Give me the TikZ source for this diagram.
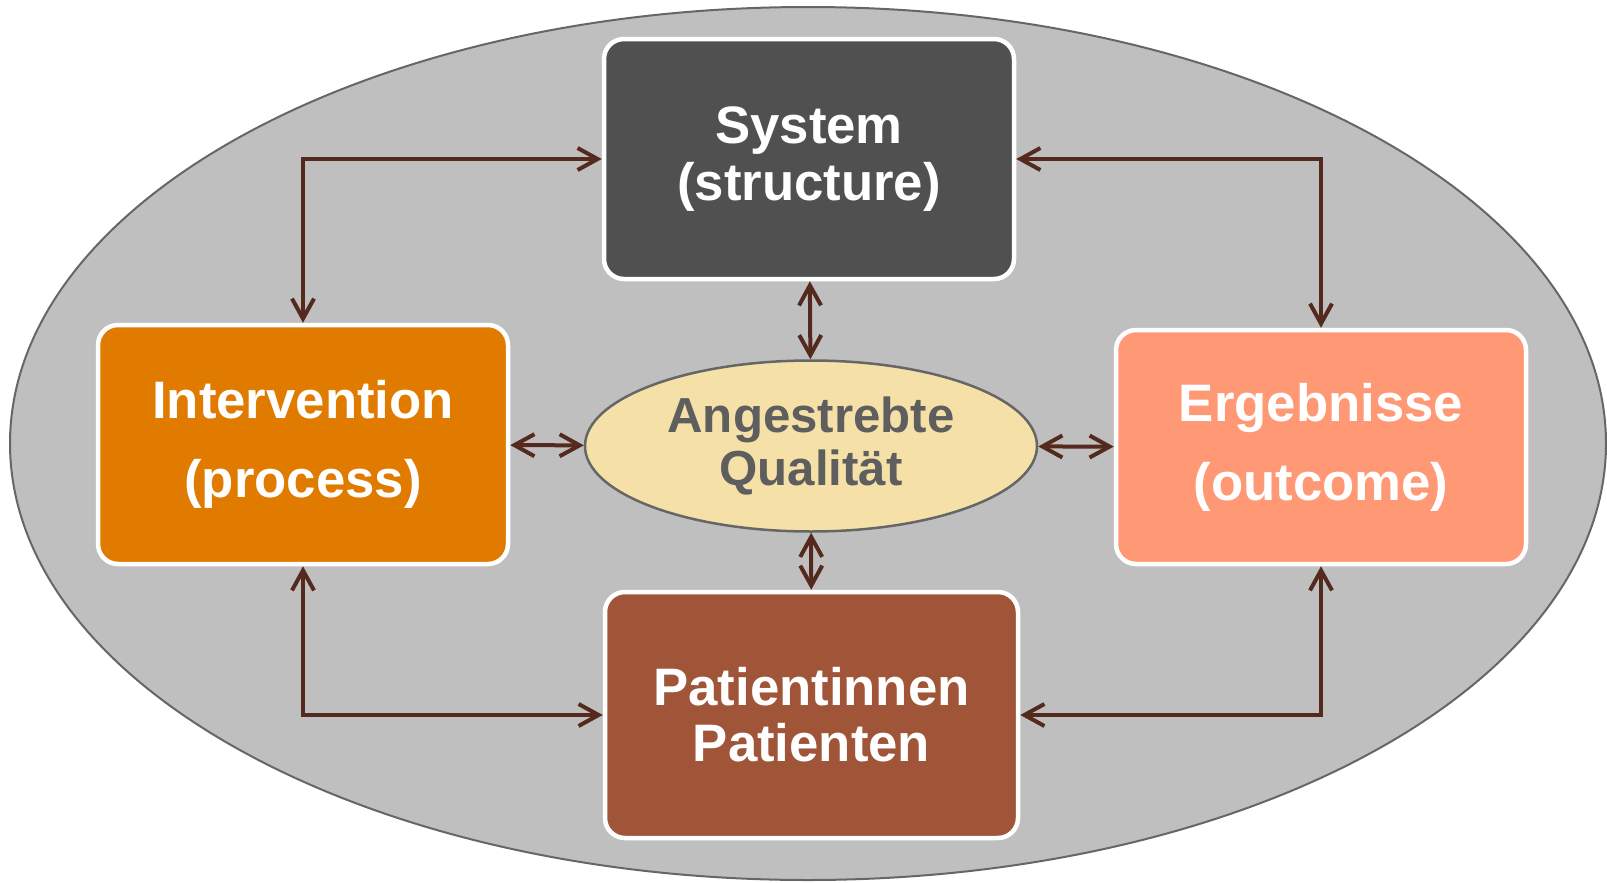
\documentclass[tikz,border=0pt]{standalone}
\usepackage{fontspec}
\setmainfont{Liberation Sans}
\usepackage{tikz}
\usetikzlibrary{arrows.meta, shapes.geometric}

\definecolor{outergray}{RGB}{191,191,191}
\definecolor{rimgray}{RGB}{102,102,102}
\definecolor{systemgray}{RGB}{80,80,80}
\definecolor{interorange}{RGB}{224,123,0}
\definecolor{outcomesalmon}{RGB}{255,153,117}
\definecolor{patientbrown}{RGB}{160,84,56}
\definecolor{qualitywheat}{RGB}{245,224,168}
\definecolor{qualitytext}{RGB}{94,94,94}
\definecolor{linkbrown}{RGB}{84,42,30}

\begin{document}
\begin{tikzpicture}[
    line cap = round,
    box/.style = {draw = white,
      line width = 0.45mm,
      rounded corners = 2mm,
      text = white,
      align = center,
      font = \bfseries\fontsize{15}{16}\selectfont,
      minimum width = {4.1cm},
      minimum height = {2.4cm}},
    quality/.style = {ellipse, draw = rimgray,
      line width = 0.25mm,
      fill = qualitywheat,
      text = qualitytext,
      align = center,
      font = \bfseries\fontsize{14}{15}\selectfont,
      minimum width = {4.52cm},
      minimum height = {1.71cm},
      inner sep = 0pt},
    link/.style = {linkbrown,
      line width = 0.4mm,
      {Straight Barb[length = 2mm, width = 2.2mm]}-{Straight Barb[length = 2mm, width = 2.2mm]}},
    ]

    \useasboundingbox (0, 0) rectangle (16.07, 8.82);

    \draw [fill = outergray, draw = rimgray, line width = 0.2mm]
    (8.08, 4.385) ellipse [x radius = 7.98, y radius = 4.365];

    \node at (8.09, 7.23)
    [box, fill = systemgray, name = system] {System\\(structure)};
    \node at (3.03, 4.375)
    [box, fill = interorange, minimum height = {2.39cm}, name = interv]
    {Intervention\\[6.5pt](process)};
    \node at (13.21, 4.35)
    [box, fill = outcomesalmon, minimum height = {2.34cm}, name = outcome]
    {Ergebnisse\\[6.5pt](outcome)};
    \node at (8.115, 1.67)
    [box, fill = patientbrown, minimum width = {4.13cm},
      minimum height = {2.46cm}, name = patient]
    {Patientinnen\\Patienten};

    \node at (8.11, 4.36)
    [quality, name = goal] {Angestrebte\\Qualität};

    \draw [link] (interv) |- (system);
    \draw [link] (system) -| (outcome);
    \draw [link] (interv) |- (patient);
    \draw [link] (patient) -| (outcome);

    \draw [link] (system) to (goal);
    \draw [link] (goal) to (patient);
    \draw [link] (interv) to (goal);
    \draw [link] (goal) to (outcome);

  \end{tikzpicture}
\end{document}
